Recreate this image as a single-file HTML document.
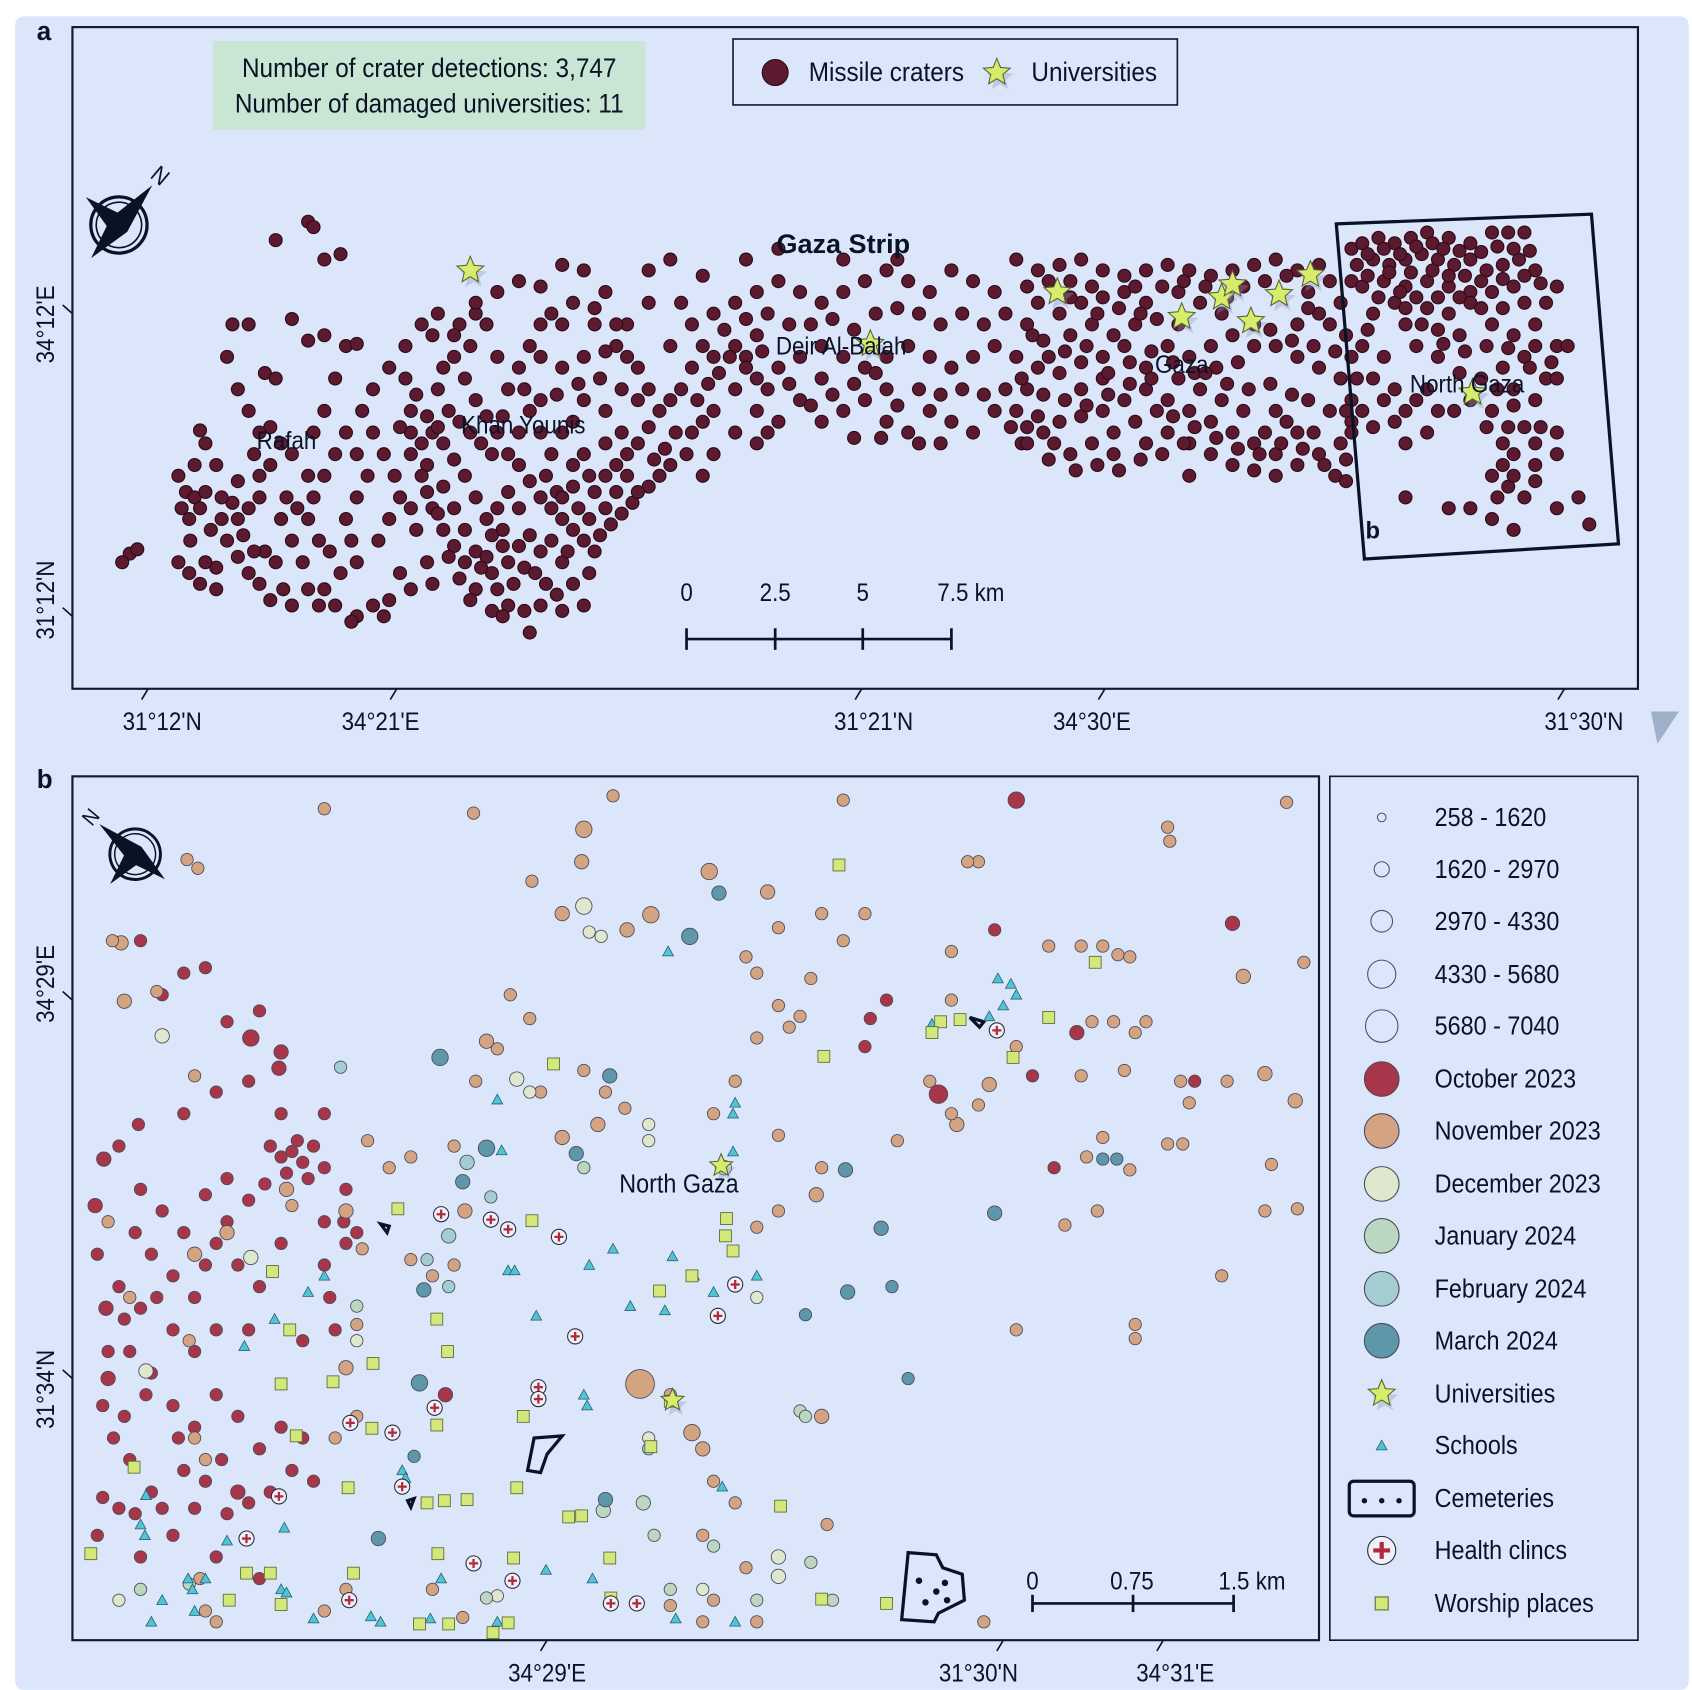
<!DOCTYPE html>
<html><head><meta charset="utf-8"><style>
html,body{margin:0;padding:0;background:#fff;}
svg{display:block;font-family:"Liberation Sans Narrow","Liberation Sans",sans-serif;}
</style></head><body>
<svg id="fig" width="1692" height="1690" viewBox="0 0 1565 1563" xmlns="http://www.w3.org/2000/svg">
<rect x="14" y="15" width="1548" height="1548" rx="8" fill="#dce6fb"/>
<g id="panelA">
<rect x="67" y="25" width="1448" height="612" fill="#dce6fb" stroke="#111a2e" stroke-width="2"/>
<text x="34" y="37" font-size="24" font-weight="bold" font-family="Liberation Sans" fill="#0a1226">a</text>
<rect x="197" y="38" width="400" height="82" fill="#c9e5d3"/>
<text x="397" y="71" font-size="25" text-anchor="middle" fill="#0a1226">Number of crater detections: 3,747</text>
<text x="397" y="104" font-size="25" text-anchor="middle" fill="#0a1226">Number of damaged universities: 11</text>
<g>
<rect x="678" y="36" width="411" height="61" fill="#dce6fb" stroke="#111a2e" stroke-width="1.5"/>
<circle cx="717" cy="67" r="12" fill="#5c1a30" stroke="#2a0a14"/>
<text x="748" y="75" font-size="25" fill="#0a1226">Missile craters</text>
<g id="legStarA"></g>
<text x="954" y="75" font-size="25" fill="#0a1226">Universities</text>
</g>
<g id="cratersA"></g>
<g id="starsA"></g>
<polygon points="1236,207 1472,198 1497,503 1262,517" fill="none" stroke="#0a1226" stroke-width="3"/>
<text x="1263" y="498" font-size="22" font-weight="bold" font-family="Liberation Sans" fill="#0a1226">b</text>
<text x="780" y="234" font-size="25" font-weight="bold" font-family="Liberation Sans" text-anchor="middle" fill="#0a1226">Gaza Strip</text>
<g font-size="23" fill="#0a1226" text-anchor="middle">
<text x="778" y="328">Deir Al-Balah</text>
<text x="1093" y="345">Gaza</text>
<text x="1357" y="363">North Gaza</text>
<text x="484" y="401">Khan Younis</text>
<text x="265" y="415">Rafah</text>
</g>
<g stroke="#0a1226" stroke-width="2.5">
<line x1="635" y1="591" x2="880" y2="591"/>
<line x1="635" y1="581" x2="635" y2="601"/><line x1="717" y1="581" x2="717" y2="601"/><line x1="798" y1="581" x2="798" y2="601"/><line x1="880" y1="581" x2="880" y2="601"/>
</g>
<g font-size="23" fill="#0a1226" text-anchor="middle">
<text x="635" y="556">0</text>
<text x="717" y="556">2.5</text>
<text x="798" y="556">5</text>
<text x="898" y="556">7.5 km</text>
</g>
<g id="ticksA" font-size="23" fill="#0a1226"></g>
<g id="northA"></g>
<path d="M1527,658 L1553,658 L1533,688 Z" fill="#9fb1c8"/>
</g>

<g id="panelB">
<rect x="67" y="718" width="1153" height="799" fill="#dce6fb" stroke="#111a2e" stroke-width="2"/>
<text x="34" y="729" font-size="24" font-weight="bold" font-family="Liberation Sans" fill="#0a1226">b</text>
<g id="cemeteries" fill="none" stroke="#0a1226" stroke-width="3">
<path d="M840,1436 L866,1438 L872,1450 L890,1456 L892,1480 L868,1492 L864,1500 L834,1498 Z"/>
<path d="M494,1330 L520,1328 L506,1345 L500,1362 L488,1360 Z"/>
<path d="M352,1132 L360,1134 L358,1140 Z"/><path d="M377,1388 L383,1386 L380,1394 Z"/><path d="M897,941 L910,945 L906,950 Z"/>
</g>
<g fill="#0a1226"><circle cx="850" cy="1462" r="3"/><circle cx="866" cy="1472" r="3"/><circle cx="856" cy="1482" r="3"/><circle cx="876" cy="1480" r="3"/><circle cx="874" cy="1464" r="3"/></g>
<g id="pointsB"></g>
<g id="schools"></g>
<g id="worship"></g>
<g id="clinics"></g>
<g id="starsB"></g>
<text x="628" y="1103" font-size="24" text-anchor="middle" fill="#0a1226">North Gaza</text>
<g stroke="#0a1226" stroke-width="2.5">
<line x1="955" y1="1483" x2="1141" y2="1483"/>
<line x1="955" y1="1475" x2="955" y2="1491"/><line x1="1048" y1="1475" x2="1048" y2="1491"/><line x1="1141" y1="1475" x2="1141" y2="1491"/>
</g>
<g font-size="23" fill="#0a1226" text-anchor="middle">
<text x="955" y="1470">0</text>
<text x="1047" y="1470">0.75</text>
<text x="1158" y="1470">1.5 km</text>
</g>
<g id="ticksB" font-size="23" fill="#0a1226"></g>
<g id="northB"></g>
<g id="legendB">
<rect x="1230" y="718" width="285" height="799" fill="#dce6fb" stroke="#111a2e" stroke-width="1.5"/>
</g>
</g>
</svg>
<script>
// ---------- data ----------
const craterXY = [120,512,127,508,113,520,165,440,172,455,168,470,180,460,165,520,175,530,185,540,200,525,210,500,220,480,230,470,240,460,215,465,225,495,245,510,255,520,262,545,240,540,230,530,270,500,280,520,295,560,300,545,285,480,290,460,300,440,310,420,270,420,260,410,250,395,240,400,230,380,220,360,245,345,255,350,210,330,215,300,230,300,270,295,285,205,290,210,255,222,300,240,315,235,185,398,200,430,185,470,195,490,240,440,330,460,320,480,325,500,330,520,330,570,325,575,355,570,360,555,370,530,380,545,345,560,350,500,360,480,380,470,340,440,330,420,320,400,290,400,300,380,310,350,320,320,330,318,285,315,300,310,180,430,176,500,205,460,265,460,190,410,
375,350,385,365,380,380,395,385,405,360,410,340,400,310,420,330,430,350,440,370,450,385,460,400,445,410,470,420,480,430,490,445,500,460,510,470,520,480,530,490,540,500,550,510,545,530,530,540,515,550,500,560,485,565,470,560,460,545,455,530,470,520,480,505,490,495,465,490,450,480,440,460,430,440,420,425,410,410,400,400,395,430,410,450,420,470,430,490,440,510,455,565,465,570,490,585,505,540,520,520,535,470,550,455,560,440,570,430,580,420,590,410,600,395,610,380,620,370,630,360,600,360,590,340,580,330,570,320,560,325,540,330,520,340,500,330,490,320,480,340,470,360,460,330,450,300,440,290,425,300,540,370,530,390,520,400,510,420,500,400,490,380,480,400,560,380,575,400,560,470,570,455,580,440,585,465,600,450,610,440,620,430,635,420,640,400,650,390,660,380,540,420,545,440,530,430,560,410,505,440,515,455,470,455,480,470,460,470,485,525,500,510,525,510,540,560,520,565,380,420,390,440,400,470,410,490,420,505,430,520,365,440,370,460,385,490,395,520,400,540,440,545,450,515,
620,320,640,300,660,290,680,280,700,270,720,260,740,270,760,280,780,270,800,260,820,250,840,260,860,270,880,250,900,260,920,270,640,340,660,330,680,320,700,310,720,340,740,330,760,320,780,330,800,340,820,330,840,320,860,330,880,340,900,330,920,320,940,330,680,360,700,380,720,390,740,370,760,390,780,380,800,370,820,390,840,400,860,380,880,390,900,400,920,380,650,440,660,420,680,400,700,410,710,400,600,250,620,240,650,255,690,240,720,230,780,240,830,240,600,280,580,300,560,270,540,250,520,245,500,265,480,260,460,270,440,280,520,300,550,300,700,350,760,350,820,360,790,405,815,405,850,410,870,410,935,395,945,410,
940,240,960,250,980,245,1000,240,1020,250,1040,255,1060,250,1080,245,1100,250,1120,255,1140,250,1160,245,1180,240,1200,250,1220,245,960,280,980,290,1000,280,1020,275,1040,270,1060,280,1070,295,1050,300,1030,310,1010,300,990,310,970,330,960,340,980,345,1000,335,1020,330,1040,320,940,380,950,395,965,400,980,390,1000,385,1020,380,1040,370,1060,360,1080,370,1100,380,1120,390,1140,400,1160,410,1180,420,1200,430,1220,420,1240,410,1250,390,1230,380,1210,370,1190,390,1170,400,1150,380,1130,370,1110,360,1090,350,1070,380,1050,390,1030,400,1010,410,990,420,970,425,950,410,1030,420,1060,410,1080,400,1100,410,1120,420,1140,430,1160,435,1100,330,1120,320,1140,310,1160,300,1180,320,1200,330,1220,340,1240,350,1250,370,1200,300,1220,290,1240,280,1250,260,1230,260,1210,270,990,260,1010,265,1050,265,1090,270,1110,280,1130,290,1090,300,1080,320,1000,360,1020,350,1060,340,1100,440,1180,440,1235,440,1245,445,1200,400,1180,380,
1250,230,1260,225,1275,220,1290,225,1305,220,1320,215,1340,220,1360,225,1380,215,1395,215,1410,215,1255,245,1270,240,1285,245,1300,240,1315,235,1330,240,1345,245,1360,240,1375,250,1390,245,1405,240,1420,250,1260,265,1280,260,1300,265,1320,260,1340,265,1360,270,1380,270,1400,265,1290,280,1320,285,1340,290,1360,280,1270,290,1300,300,1330,305,1350,310,1380,300,1400,310,1420,320,1440,320,1410,330,1390,340,1370,350,1350,345,1330,330,1310,320,1280,330,1260,320,1270,350,1290,360,1310,370,1330,380,1360,370,1380,380,1400,375,1420,370,1430,350,1260,380,1270,395,1290,390,1300,410,1320,400,1390,410,1400,420,1420,410,1380,440,1395,450,1410,460,1360,470,1380,480,1400,490,1440,470,1460,460,1470,485,1390,430,1420,430,1440,420,1300,460,1340,470,1420,300,1430,280,1440,265,
395,455,405,475,415,515,425,535,435,555,445,525,455,495,465,505,475,540,495,530,510,500,520,460,530,450,545,480,555,495,565,485,575,475,590,455,605,425,615,415,625,400,645,370,655,355,665,345,675,330,690,330,705,325,590,370,575,360,555,350,535,355,515,365,500,370,485,360,465,385,455,420,435,400,425,390,415,380,405,395,390,410,380,400,370,395,355,420,345,400,335,380,345,360,360,340,375,320,390,300,405,290,420,310,435,320,500,300,510,290,530,280,550,285,570,300,
175,480,190,455,205,480,220,445,235,420,250,430,260,480,275,470,285,440,295,500,305,510,315,530,310,560,285,545,270,560,250,555,235,510,220,515,200,545,190,520,
630,280,650,320,670,305,690,295,710,290,730,300,750,300,770,295,790,305,810,290,830,285,850,290,870,300,890,290,910,300,930,290,950,300,690,340,710,360,730,355,750,375,770,365,790,355,810,345,830,375,850,360,870,365,890,360,910,365,930,360,950,360,
950,265,970,260,990,275,1015,290,1035,285,1055,290,1075,265,1095,260,1115,265,1135,275,1150,265,1170,260,1190,255,1210,285,1230,300,1245,310,1235,325,1215,320,1195,315,1175,305,1160,320,1145,335,1125,340,1105,345,1085,335,1065,325,1045,335,1025,345,1005,320,985,325,965,315,955,310,945,350,965,365,985,370,1005,375,1025,365,1045,355,1065,350,1085,385,1105,395,1125,405,1145,415,1165,420,1185,410,1205,415,1225,430,1245,425,1215,400,1195,365,1175,355,1155,360,1135,355,1115,345,1095,410,1075,420,1055,425,1035,435,1015,430,995,435,975,410,960,385,
1265,235,1280,230,1295,235,1310,228,1325,225,1335,230,1350,232,1370,233,1385,228,1400,230,1415,232,1265,255,1285,252,1305,252,1325,250,1340,255,1355,255,1370,260,1390,258,1410,255,1425,262,1275,275,1295,270,1310,275,1330,275,1350,275,1370,285,1390,285,1410,280,1300,285,1315,300,1335,318,1355,325,1375,320,1395,322,1415,340,1435,335,1450,320,1385,360,1400,360,1440,350,1375,395,1395,395,1410,395,1425,395,1440,400,1400,440,1385,460,1420,445,1280,370,1300,380,1320,360,1345,380,1250,400,1245,380,1255,350,1250,330,1265,305];
const uniA = [435,250,805,318,978,270,1093,293,1130,275,1140,263,1157,297,1183,272,1212,254,1362,363];
const monthColors = ["#a8364a","#d4a482","#dfe7cf","#bcd7bf","#a3cdd0","#5f97aa"];
const monthLabels = ["October 2023","November 2023","December 2023","January 2024","February 2024","March 2024"];
const sizeLabels = ["258 - 1620","1620 - 2970","2970 - 4330","4330 - 5680","5680 - 7040"];
const oct = [940,740,8,1140,854,7,868,1012,9,996,955,7,232,960,8,260,973,7,258,988,7,96,1072,7,88,1115,7,98,1210,7,100,1275,7,105,1330,6,95,1385,6,130,1100,6,150,1120,6,170,1140,6,140,1160,6,110,1190,6,130,1210,6,160,1180,6,180,1200,6,200,1150,6,210,1130,6,220,1170,6,240,1190,6,120,1250,6,140,1270,6,160,1300,6,180,1320,6,200,1290,6,220,1310,6,240,1340,6,260,1320,6,280,1330,6,120,1350,6,140,1380,6,150,1395,6,170,1360,6,190,1370,6,210,1400,6,230,1390,6,250,1380,6,270,1360,6,290,1370,6,250,1060,6,260,1070,6,270,1065,6,280,1075,6,290,1060,6,300,1080,6,285,1090,6,275,1055,6,265,1085,6,245,1095,6,230,1110,6,210,1090,6,190,1105,6,320,1100,6,318,1130,6,320,1150,6,300,1170,6,305,1200,6,310,1230,6,110,1060,6,128,1040,6,170,1030,6,200,1010,6,230,1000,6,190,895,6,170,900,6,150,920,6,130,870,6,210,945,6,240,935,6,260,1030,6,412,1290,7,820,925,6,920,860,6,955,995,6,1105,1000,6,975,1080,6,800,968,6,805,942,6,220,1380,7,160,1420,6,200,1440,6,240,1460,6,130,1440,6,90,1420,6,110,1395,6,300,1130,6,330,1140,6,300,1030,6,260,1150,6,280,1240,6,90,1160,6,100,1250,6,135,1290,6,230,1230,6,200,1230,6,180,1250,6,160,1230,6,115,1220,6,125,1140,6,145,1200,6,190,1170,6,95,1300,6,115,1310,6,165,1330,6,205,1350,6,125,1400,6,180,1395,6];
const nov = [540,767,8,538,797,7,656,806,8,710,825,7,602,846,8,520,845,7,580,860,7,690,885,6,720,858,6,760,845,6,800,845,6,780,870,6,750,905,6,740,940,6,720,930,6,700,960,6,680,1000,6,660,1030,6,720,1050,6,760,1080,6,755,1105,7,720,1120,6,700,1135,6,560,1010,6,553,1040,7,520,1052,7,578,1025,6,540,990,6,500,1010,6,450,963,7,460,970,6,490,942,6,440,1000,6,420,1060,6,380,1070,6,360,1080,6,340,1055,6,320,1120,7,335,1155,6,380,1165,6,400,1180,6,420,1170,6,430,1120,7,330,1225,6,320,1265,7,330,1310,6,310,1330,6,640,1325,8,650,1340,7,592,1280,14,620,1290,6,660,1370,6,680,1390,6,650,1420,6,690,1450,6,660,1480,6,700,1500,6,650,1500,6,760,1310,7,765,1410,6,720,1440,6,190,1490,6,185,1460,6,200,1500,6,300,1490,6,320,1470,6,400,1470,6,428,1496,6,1150,903,7,1170,993,7,1198,1018,7,1176,1077,6,1206,890,6,1034,883,6,1000,875,6,970,875,6,1010,945,6,1030,945,6,1050,955,6,1040,990,6,1000,995,6,940,968,6,915,1003,7,885,1040,7,880,1030,6,905,1022,6,1130,1180,6,1170,1120,6,1200,1118,6,1050,1225,6,1050,1238,6,940,1230,6,985,1133,6,1080,765,6,1082,778,6,1190,742,6,905,797,6,895,797,6,880,880,6,880,925,6,1005,1070,6,1020,1052,6,1045,1082,6,1080,1058,6,1094,1058,6,1135,1000,6,1092,1000,6,1100,1020,6,115,926,7,112,872,7,104,870,6,145,917,6,183,803,6,173,795,6,180,995,6,300,748,6,438,752,6,567,736,6,780,740,6,492,815,6,472,920,6,265,1100,7,270,1115,6,180,1160,7,175,1240,6,210,1140,7,180,1330,6,190,1350,6,120,1200,6,100,1130,6,910,1500,6,620,1485,6,860,1000,6,830,1055,6,1015,1120,6,1060,945,6,1020,875,6,1045,885,6,700,900,6,730,950,6];
const dec = [540,838,8,150,958,7,232,1163,7,135,1268,7,478,998,7,490,1010,6,600,1040,6,600,1055,6,545,862,6,556,866,6,720,1440,7,720,1458,7,650,1470,6,460,1476,6,110,1480,6,330,1240,6,670,1080,7,600,1330,6,700,1200,6];
const jan = [558,1397,7,595,1390,7,740,1305,6,745,1310,6,605,1420,6,660,1430,6,700,1480,6,540,1080,6,330,1208,6,130,1470,6,175,1465,6,450,1478,6,620,1470,6,750,1445,6,770,1480,6];
const feb = [432,1075,7,454,1107,6,415,1143,7,395,1165,6,315,987,6,415,1190,6,600,1340,6];
const mar = [407,978,8,638,866,8,665,826,7,564,995,7,533,1067,7,450,1062,8,428,1093,7,782,1082,7,815,1136,7,920,1122,7,784,1195,7,745,1216,6,825,1190,6,388,1279,8,560,1387,7,350,1423,7,383,1347,6,840,1275,6,1020,1072,6,1033,1072,6,392,1193,7];
const schoolXY = [618,880,923,905,935,910,940,920,928,930,915,940,862,947,680,1020,678,1030,460,1017,464,1064,678,1065,545,1170,567,1155,622,1162,660,1195,642,1180,470,1175,476,1175,496,1217,583,1208,540,1290,543,1300,372,1360,375,1367,254,1220,226,1245,135,1383,130,1410,134,1420,263,1413,210,1425,290,1497,174,1460,178,1470,190,1460,150,1480,180,1490,140,1500,343,1495,352,1500,260,1470,265,1473,408,1460,548,1460,505,1452,625,1497,668,1375,680,1500,460,1500,398,1497,615,1212,700,1180,285,1195,300,1180];
const worshipXY = [776,800,1013,890,970,941,870,945,888,943,862,955,937,978,762,977,512,984,368,1118,492,1129,610,1194,640,1180,404,1220,414,1250,345,1261,308,1278,260,1280,672,1127,671,1143,678,1157,620,1296,484,1310,344,1321,274,1328,404,1318,602,1338,478,1376,322,1376,395,1390,411,1388,432,1387,124,1357,252,1176,268,1230,84,1437,228,1455,327,1455,405,1437,475,1441,564,1441,526,1403,538,1402,722,1393,212,1480,260,1484,388,1502,415,1502,470,1501,456,1510,760,1479,820,1483,250,1455,565,1478];
const clinicXY = [408,1123,454,1128,470,1137,517,1144,680,1188,664,1217,532,1236,498,1283,498,1294,402,1302,324,1316,363,1325,372,1375,258,1384,228,1423,438,1446,474,1462,323,1480,565,1483,589,1483,922,953];
const uniB = [667,1078,622,1295];
const ticksAxBottomA = [[137,"31°12'N",150],[367,"34°21'E",352],[797,"31°21'N",808],[1022,"34°30'E",1010],[1447,"31°30'N",1465]];
const ticksAxLeftA = [[290,"34°12'E",300],[570,"31°12'N",555]];
const ticksAxBottomB = [[506,"34°29'E",506],[928,"31°30'N",905],[1076,"34°31'E",1087]];
const ticksAxLeftB = [[925,"34°29'E",910],[1275,"31°34'N",1285]];

// ---------- scales ----------
const xS = v => 0 + v * 1;
const yS = v => 0 + v * 1;
const NS = "http://www.w3.org/2000/svg";
function mk(tag, attrs, parent){const e=document.createElementNS(NS,tag);for(const k in attrs)e.setAttribute(k,attrs[k]);parent.appendChild(e);return e;}
function starPts(cx,cy,R){const r=R*0.45;let p=[];for(let i=0;i<10;i++){const a=-Math.PI/2+i*Math.PI/5;const rr=i%2?r:R;p.push((cx+rr*Math.cos(a)).toFixed(1)+","+(cy+rr*Math.sin(a)).toFixed(1));}return p.join(" ");}

const gC = document.getElementById("cratersA");
for(let i=0;i<craterXY.length;i+=2){
  const c = mk("circle",{cx:xS(craterXY[i]),cy:yS(craterXY[i+1]),r:6,fill:"#5c1a30",stroke:"#2a0a14","stroke-width":1},gC);
  
  
}
function drawStar(g,x,y,R){
  mk("polygon",{points:starPts(x+3,y+5,R),fill:"#8a96b0",opacity:0.35},g);
  const s = mk("polygon",{points:starPts(x,y,R),fill:"#d6ec6a",stroke:"#59633a","stroke-width":1},g);
  
  
}
const gS = document.getElementById("starsA");
for(let i=0;i<uniA.length;i+=2) drawStar(gS,xS(uniA[i]),yS(uniA[i+1]),13);
drawStar(document.getElementById("legStarA"),922,67,13);

const gP = document.getElementById("pointsB");
[oct,nov,dec,jan,feb,mar].forEach((arr,m)=>{
  for(let i=0;i<arr.length;i+=3){
    const c = mk("circle",{cx:xS(arr[i]),cy:yS(arr[i+1]),r:arr[i+2]*0.95,fill:monthColors[m],stroke:"#4a4a5a","stroke-width":0.8},gP);
    
    
  }
});
function tri(g,x,y,s){return mk("polygon",{points:`${x},${y-s} ${x+s},${y+s*0.8} ${x-s},${y+s*0.8}`,fill:"#4fc4d8",stroke:"#2a5a6a","stroke-width":0.7},g);}
const gSc = document.getElementById("schools");
for(let i=0;i<schoolXY.length;i+=2){
  const t = tri(gSc,xS(schoolXY[i]),yS(schoolXY[i+1]),5);
  
  
}
const gW = document.getElementById("worship");
for(let i=0;i<worshipXY.length;i+=2){
  const r = mk("rect",{x:xS(worshipXY[i])-5.5,y:yS(worshipXY[i+1])-5.5,width:11,height:11,fill:"#d4e87a",stroke:"#5a6a3a","stroke-width":0.8},gW);
  
  
}
function clinic(g,x,y,R){
  const grp = mk("g",{},g);
  mk("circle",{cx:x,cy:y,r:R,fill:"#eef0fa",stroke:"#2a2a3a","stroke-width":1},grp);
  mk("path",{d:`M${x-R*0.6},${y} H${x+R*0.6} M${x},${y-R*0.6} V${y+R*0.6}`,stroke:"#b02a3a","stroke-width":R*0.3},grp);
  return grp;
}
const gH = document.getElementById("clinics");
for(let i=0;i<clinicXY.length;i+=2){
  const h = clinic(gH,xS(clinicXY[i]),yS(clinicXY[i+1]),7);
  
  
}
const gSB = document.getElementById("starsB");
for(let i=0;i<uniB.length;i+=2) drawStar(gSB,xS(uniB[i]),yS(uniB[i+1]),11);

function ticks(gid, bottom, left, yBottom, yLbl){
  const g=document.getElementById(gid);
  bottom.forEach(t=>{
    mk("line",{x1:t[0],y1:yBottom,x2:t[0]-6,y2:yBottom+10,stroke:"#0a1226","stroke-width":1.5},g);
    const tx=mk("text",{x:t[2],y:yLbl,"text-anchor":"middle"},g);tx.textContent=t[1];
    
    
  });
  left.forEach(t=>{
    mk("line",{x1:67,y1:t[0],x2:58,y2:t[0]-8,stroke:"#0a1226","stroke-width":1.5},g);
    const tx=mk("text",{x:0,y:0,"text-anchor":"middle",transform:`translate(50,${t[2]}) rotate(-90)`},g);tx.textContent=t[1];
    
    
  });
}
ticks("ticksA",ticksAxBottomA,ticksAxLeftA,637,675);
ticks("ticksB",ticksAxBottomB,ticksAxLeftB,1517,1555);

function north(gid,cx,cy,rot,sc){
  const g=document.getElementById(gid);
  const w=mk("g",{transform:`translate(${cx},${cy}) rotate(${rot}) scale(${sc})`},g);
  mk("circle",{cx:0,cy:0,r:26,fill:"none",stroke:"#0a1226","stroke-width":3},w);
  mk("circle",{cx:0,cy:0,r:21,fill:"none",stroke:"#0a1226","stroke-width":1.5},w);
  mk("polygon",{points:"0,-48 10,0 0,40 -10,0",fill:"#0a1226"},w);
  mk("polygon",{points:"-40,0 0,-10 0,10",fill:"#0a1226"},w);
  const t=mk("text",{x:0,y:-52,"text-anchor":"middle","font-size":22,"font-family":"Liberation Sans",fill:"#0a1226"},w);t.textContent="N";
}
north("northA",110,208,40,1);
north("northB",125,790,-50,0.9);

const gL=document.getElementById("legendB");
const legY=[756,804,852,901,949,998,1046,1095,1143,1192,1240,1289,1337,1386,1434,1483];
function ltxt(y,s){const t=mk("text",{x:1327,y:y+8,"font-size":24,fill:"#0a1226"},gL);t.textContent=s;

}
sizeLabels.forEach((s,i)=>{mk("circle",{cx:1278,cy:legY[i],r:[4,7,10,13,15][i],fill:"#dce6fb",stroke:"#4a5066","stroke-width":1},gL);ltxt(legY[i],s);});
monthLabels.forEach((s,i)=>{mk("circle",{cx:1278,cy:legY[5+i],r:16,fill:monthColors[i],stroke:"#4a4a5a","stroke-width":1},gL);ltxt(legY[5+i],s);});
drawStar(gL,1278,legY[11],13);ltxt(legY[11],"Universities");
tri(gL,1278,legY[12],5);ltxt(legY[12],"Schools");
mk("rect",{x:1248,y:legY[13]-16,width:60,height:32,rx:4,fill:"none",stroke:"#0a1226","stroke-width":3},gL);
[1262,1278,1294].forEach(x=>mk("circle",{cx:x,cy:legY[13]+2,r:2.5,fill:"#0a1226"},gL));
ltxt(legY[13],"Cemeteries");
clinic(gL,1278,legY[14],13);ltxt(legY[14],"Health clincs");
mk("rect",{x:1272,y:legY[15]-6,width:12,height:12,fill:"#d4e87a",stroke:"#5a6a3a"},gL);ltxt(legY[15],"Worship places");

document.querySelectorAll("#fig text").forEach(t=>{
  if(t.getAttribute("font-weight")==="bold") return;
  const w=t.getComputedTextLength();
  if(w>0){t.setAttribute("textLength",(w*0.9).toFixed(1));t.setAttribute("lengthAdjust","spacingAndGlyphs");}
});
</script>
</body></html>
